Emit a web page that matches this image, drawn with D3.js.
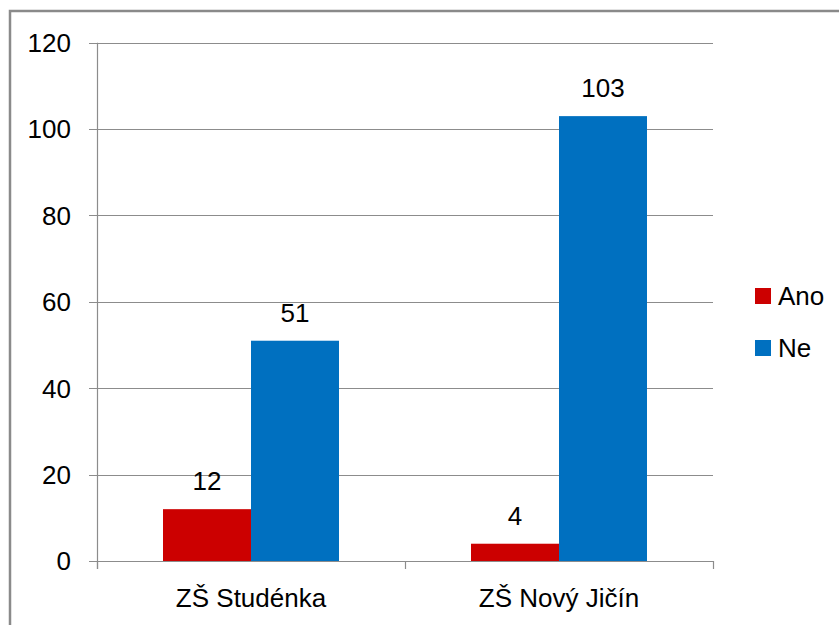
<!DOCTYPE html>
<html>
<head>
<meta charset="utf-8">
<script src="https://cdn.jsdelivr.net/npm/d3@7"></script>
<style>
  html, body { margin: 0; padding: 0; background: #fff; }
  svg { display: block; }
  text { font-family: "Liberation Sans", Arial, sans-serif; fill: #000; }
</style>
</head>
<body>
<div id="chart"></div>
<script>
// schools on the x axis, one bar per answer
const categories = ['ZŠ Studénka', 'ZŠ Nový Jičín'];
const seriesNames = ['Ano', 'Ne'];
const anoValues = [12, 4];
const neValues = [51, 103];
const yTicks = [0, 20, 40, 60, 80, 100, 120];
const seriesColors = ['#cc0000', '#0070c0'];

const width = 839;
const height = 625;
const plot = { left: 97, right: 713, top: 42.7, bottom: 561 };
const fontSize = 26;

const svg = d3.select('#chart')
    .append('svg')
    .attr('width', width)
    .attr('height', height);

// outer chart frame, runs past the right and bottom edges
svg.append('rect')
    .attr('x', 10)
    .attr('y', 11)
    .attr('width', width + 20)
    .attr('height', height + 20)
    .attr('fill', 'none')
    .attr('stroke', '#8a8a8a')
    .attr('stroke-width', 2.5);

const x = d3.scaleBand()
    .domain(categories)
    .range([plot.left, plot.right]);

// Excel style: gap width 150% of a bar
const barWidth = x.bandwidth() / (seriesNames.length + 1.5);
const sideGap = (x.bandwidth() - barWidth * seriesNames.length) / 2;

const y = d3.scaleLinear()
    .domain([0, 120])
    .range([plot.bottom, plot.top]);

// gridlines
svg.append('g')
    .selectAll('line')
    .data(yTicks)
    .join('line')
    .attr('x1', plot.left - 8)
    .attr('x2', plot.right)
    .attr('y1', (d) => Math.round(y(d)) + 0.5)
    .attr('y2', (d) => Math.round(y(d)) + 0.5)
    .attr('stroke', '#8c8c8c')
    .attr('stroke-width', 1.2);

// y axis line
svg.append('line')
    .attr('x1', plot.left + 0.5)
    .attr('x2', plot.left + 0.5)
    .attr('y1', plot.top)
    .attr('y2', plot.bottom + 8)
    .attr('stroke', '#8c8c8c')
    .attr('stroke-width', 1.2);

// y tick labels
svg.append('g')
    .selectAll('text')
    .data(yTicks)
    .join('text')
    .attr('x', 71)
    .attr('y', (d) => y(d))
    .attr('dy', '0.36em')
    .attr('text-anchor', 'end')
    .attr('font-size', fontSize)
    .text((d) => d);

// bars
const series = [anoValues, neValues];
series.forEach((values, si) => {
    const g = svg.append('g');
    g.selectAll('rect')
        .data(values)
        .join('rect')
        .attr('x', (d, i) => x(categories[i]) + sideGap + si * barWidth)
        .attr('y', (d) => y(d))
        .attr('width', barWidth)
        .attr('height', (d) => y(0) - y(d))
        .attr('fill', seriesColors[si]);

    g.selectAll('text')
        .data(values)
        .join('text')
        .attr('x', (d, i) => x(categories[i]) + sideGap + (si + 0.5) * barWidth)
        .attr('y', (d) => y(d) - 19)
        .attr('text-anchor', 'middle')
        .attr('font-size', fontSize)
        .text((d) => d);
});

// x axis line and category ticks
svg.append('line')
    .attr('x1', plot.left)
    .attr('x2', plot.right)
    .attr('y1', Math.round(plot.bottom) + 0.5)
    .attr('y2', Math.round(plot.bottom) + 0.5)
    .attr('stroke', '#8c8c8c')
    .attr('stroke-width', 1.2);

const boundaries = categories.map((c) => x(c)).concat([plot.right]);
svg.append('g')
    .selectAll('line')
    .data(boundaries)
    .join('line')
    .attr('x1', (d) => Math.round(d) + 0.5)
    .attr('x2', (d) => Math.round(d) + 0.5)
    .attr('y1', plot.bottom)
    .attr('y2', plot.bottom + 8)
    .attr('stroke', '#8c8c8c')
    .attr('stroke-width', 1.2);

svg.append('g')
    .selectAll('text')
    .data(categories)
    .join('text')
    .attr('x', (d) => x(d) + x.bandwidth() / 2)
    .attr('y', 607)
    .attr('text-anchor', 'middle')
    .attr('font-size', fontSize)
    .text((d) => d);

// legend
const legend = svg.append('g')
    .selectAll('g')
    .data(seriesNames)
    .join('g')
    .attr('transform', (d, i) => `translate(755, ${296 + i * 52})`);

legend.append('rect')
    .attr('x', 0)
    .attr('y', -8)
    .attr('width', 16)
    .attr('height', 16)
    .attr('fill', (d, i) => seriesColors[i]);

legend.append('text')
    .attr('x', 23)
    .attr('y', 0)
    .attr('dy', '0.36em')
    .attr('font-size', fontSize)
    .text((d) => d);
</script>
</body>
</html>
